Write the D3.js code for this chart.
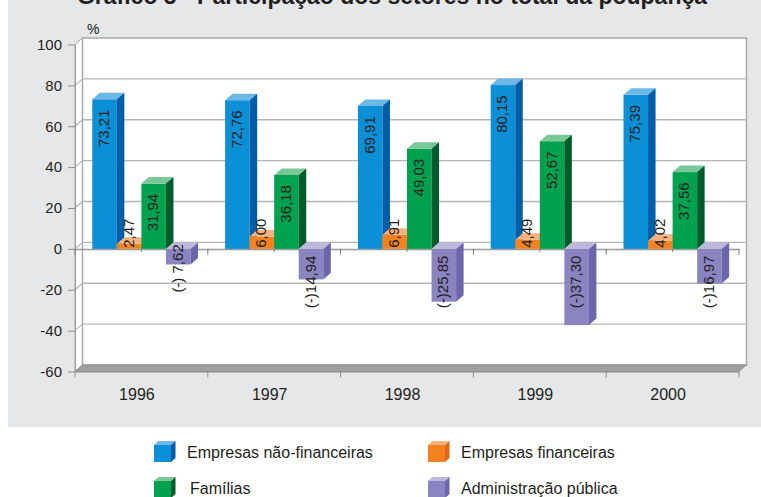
<!DOCTYPE html>
<html>
<head>
<meta charset="utf-8">
<script src="https://cdn.jsdelivr.net/npm/d3@7"></script>
<style>
  body { margin: 0; background: #fff; }
  svg { display: block; font-family: "Liberation Sans", Arial, Helvetica, sans-serif; }
</style>
</head>
<body>
<div id="chart"></div>
<script>
// data
const years = ["1996", "1997", "1998", "1999", "2000"];
const seriesNames = ["Empresas não-financeiras", "Empresas financeiras", "Famílias", "Administração pública"];
const naoFinanceiras = [73.21, 72.76, 69.91, 80.15, 75.39];
const financeiras = [2.47, 6.00, 6.91, 4.49, 4.02];
const familias = [31.94, 36.18, 49.03, 52.67, 37.56];
const administracao = [-7.62, -14.94, -25.85, -37.30, -16.97];
const yTicks = [-60, -40, -20, 0, 20, 40, 60, 80, 100];

const series = [naoFinanceiras, financeiras, familias, administracao];

// front / top / side colours for each series
const palette = [
   {front: "#0b8fd6", top: "#6cb8e6", side: "#005ea8"},
   {front: "#f4821f", top: "#f8b07c", side: "#e2661a"},
   {front: "#00a24f", top: "#79c898", side: "#005c2a"},
   {front: "#8a84c0", top: "#bcb8dc", side: "#6d66ad"}
];

const W = 761, H = 497;
const dx = 7.5, dy = -6.5;   // 3d depth offset

const svg = d3.select("#chart").append("svg")
   .attr("width", W)
   .attr("height", H);

svg.append("rect")
   .attr("x", 8).attr("y", 0)
   .attr("width", W - 8).attr("height", 427)
   .attr("fill", "#e6e7e8");

// the title sits mostly above the top edge, as in the original scan
svg.append("text")
   .attr("x", 392).attr("y", 4)
   .attr("text-anchor", "middle")
   .attr("font-size", 23).attr("font-weight", "bold")
   .attr("fill", "#231f20")
   .text("Gráfico 5 - Participação dos setores no total da poupança");

var y = d3.scaleLinear().domain([-60, 100]).range([371.5, 44.5]);
var x0 = d3.scaleBand().domain(years).range([75, 739]);
var x1 = d3.scaleBand().domain(d3.range(series.length)).range([17.3, 115.5]);

var left = x0.range()[0], right = x0.range()[1];
var yMin = y(-60), yMax = y(100), y0 = y(0);

// left side wall
svg.append("polygon")
   .attr("points", [[left, yMax], [left + dx, yMax + dy], [left + dx, yMin + dy], [left, yMin]].join(" "))
   .attr("fill", "#fff")
   .attr("stroke", "#a9a9a9").attr("stroke-width", 1);

// back wall
svg.append("rect")
   .attr("x", left + dx).attr("y", yMax + dy)
   .attr("width", right - left).attr("height", yMin - yMax)
   .attr("fill", "#fff")
   .attr("stroke", "#a9a9a9").attr("stroke-width", 1.5);

// gridlines on back wall and side wall
var grid = svg.append("g").attr("stroke", "#b5b5b5").attr("stroke-width", 1.3);
grid.selectAll(".gb")
   .data(yTicks.filter(function(t) { return t > -60 && t < 100; }))
   .enter().append("line")
   .attr("x1", left + dx).attr("x2", right + dx)
   .attr("y1", function(d) { return y(d) + dy; })
   .attr("y2", function(d) { return y(d) + dy; });
grid.selectAll(".gs")
   .data(yTicks.filter(function(t) { return t > -60 && t < 100; }))
   .enter().append("line")
   .attr("x1", left).attr("x2", left + dx)
   .attr("y1", function(d) { return y(d); })
   .attr("y2", function(d) { return y(d) + dy; });

// floor
svg.append("polygon")
   .attr("points", [[left, yMin], [right, yMin], [right + dx, yMin + dy], [left + dx, yMin + dy]].join(" "))
   .attr("fill", "#9fa0a3")
   .attr("stroke", "#8a8b8e").attr("stroke-width", 0.8);

// front value axis
var yAxis = svg.append("g")
   .attr("transform", "translate(" + left + ",0)")
   .call(d3.axisLeft(y).tickValues(yTicks).tickSize(7).tickSizeOuter(0).tickPadding(6)
      .tickFormat(function(d) { return String(d); }));
yAxis.select(".domain").attr("stroke", "#9a9a9a");
yAxis.selectAll(".tick line").attr("stroke", "#8c8c8c");
yAxis.selectAll("text").attr("font-size", 15).attr("fill", "#231f20")
   .attr("font-family", "Liberation Sans, Arial, sans-serif");

svg.append("text")
   .attr("x", 87).attr("y", 34)
   .attr("font-size", 14).attr("fill", "#231f20")
   .text("%");

// category axis at the bottom
var xAxis = svg.append("g")
   .attr("transform", "translate(0," + yMin + ")")
   .call(d3.axisBottom(x0).tickSize(0).tickSizeOuter(0).tickPadding(17));
xAxis.select(".domain").attr("stroke", "#8c8c8c");
xAxis.selectAll("text").attr("font-size", 16).attr("fill", "#231f20").attr("dx", -4.5)
   .attr("font-family", "Liberation Sans, Arial, sans-serif");

var bounds = years.map(function(c) { return x0(c); }).concat([right]);
svg.append("g").selectAll("line")
   .data(bounds).enter().append("line")
   .attr("x1", function(d) { return d; }).attr("x2", function(d) { return d; })
   .attr("y1", yMin).attr("y2", yMin + 6)
   .attr("stroke", "#8c8c8c");

// zero line with ticks
var zAxis = svg.append("g")
   .attr("transform", "translate(0," + y0 + ")")
   .call(d3.axisBottom(x0).tickSize(3).tickSizeOuter(0).tickFormat(""));
zAxis.select(".domain").attr("stroke", "#9a9a9a").attr("stroke-width", 1.5);
zAxis.selectAll(".tick line").attr("stroke", "#7a7a7a");
svg.append("g").selectAll("line")
   .data(bounds).enter().append("line")
   .attr("x1", function(d) { return d; }).attr("x2", function(d) { return d; })
   .attr("y1", y0).attr("y2", y0 + 6)
   .attr("stroke", "#7a7a7a");

// bars
var bars = [];
years.forEach(function(yr, i) {
   series.forEach(function(s, k) {
      var v = s[i];
      var x = x0(yr) + x1(k), w = x1.bandwidth();
      bars.push({v: v, k: k, x: x, w: w, yT: y(Math.max(v, 0)), yB: y(Math.min(v, 0)), id: "b" + i + "_" + k});
   });
});

function topPts(b) {
   return [[b.x, b.yT], [b.x + dx, b.yT + dy], [b.x + b.w + dx, b.yT + dy], [b.x + b.w, b.yT]].join(" ");
}
function sidePts(b) {
   return [[b.x + b.w, b.yT], [b.x + b.w + dx, b.yT + dy], [b.x + b.w + dx, b.yB + dy], [b.x + b.w, b.yB]].join(" ");
}

var defs = svg.append("defs");
var barG = svg.append("g");
bars.forEach(function(b) {
   var g = barG.append("g");
   var c = palette[b.k];
   g.append("rect").attr("x", b.x).attr("y", b.yT).attr("width", b.w).attr("height", b.yB - b.yT).attr("fill", c.front);
   g.append("polygon").attr("points", topPts(b)).attr("fill", c.top);
   g.append("polygon").attr("points", sidePts(b)).attr("fill", c.side);

   var cp = defs.append("clipPath").attr("id", b.id);
   cp.append("rect").attr("x", b.x).attr("y", b.yT).attr("width", b.w).attr("height", b.yB - b.yT);
   cp.append("polygon").attr("points", topPts(b));
   cp.append("polygon").attr("points", sidePts(b));
});

// value labels: dark text, white where it sits on its own bar
var fmt = d3.format(".2f");
function labelText(v) {
   var s = fmt(Math.abs(v)).replace(".", ",");
   if (v < 0) {
      if (s.length < 5) s = " " + s;
      return "(-)" + s;
   }
   return s;
}

var labG = svg.append("g");
bars.forEach(function(b) {
   var txt = labelText(b.v);
   var cx = b.x + b.w / 2 - 1;
   var probe = labG.append("text").attr("font-size", 15).text(txt);
   var len = probe.node().getComputedTextLength();
   probe.remove();
   var cy;
   if (b.v >= 0) {
      cy = Math.min(b.yT + 29, y0 - len / 2 - 1);
   }
   else {
      cy = y0 + Math.min(b.yB - y0 + 4, 33);
   }
   ["#231f20", "#fff"].forEach(function(col, j) {
      var t = labG.append("text")
         .attr("transform", "translate(" + cx + "," + cy + ") rotate(-90)")
         .attr("text-anchor", "middle")
         .attr("dominant-baseline", "central")
         .attr("font-size", 15)
         .attr("fill", col)
         .style("white-space", "pre")
         .text(txt);
      if (j == 1) t.attr("clip-path", "url(#" + b.id + ")");
   });
});

// legend
var colX = [154, 428], rowY = [445, 481];
var lg = svg.append("g");
seriesNames.forEach(function(name, i) {
   var c = palette[i];
   var lx = colX[i % 2], ly = rowY[Math.floor(i / 2)];
   var s = 17, d = 4.5, e = -4;
   lg.append("rect").attr("x", lx).attr("y", ly).attr("width", s).attr("height", s).attr("fill", c.front);
   lg.append("polygon")
      .attr("points", [[lx, ly], [lx + d, ly + e], [lx + s + d, ly + e], [lx + s, ly]].join(" "))
      .attr("fill", c.top);
   lg.append("polygon")
      .attr("points", [[lx + s, ly], [lx + s + d, ly + e], [lx + s + d, ly + s + e], [lx + s, ly + s]].join(" "))
      .attr("fill", c.side);
   lg.append("text")
      .attr("x", lx + (i == 2 ? 36 : 33)).attr("y", ly + 12.5)
      .attr("font-size", 16).attr("fill", "#231f20")
      .text(name);
});
</script>
</body>
</html>
